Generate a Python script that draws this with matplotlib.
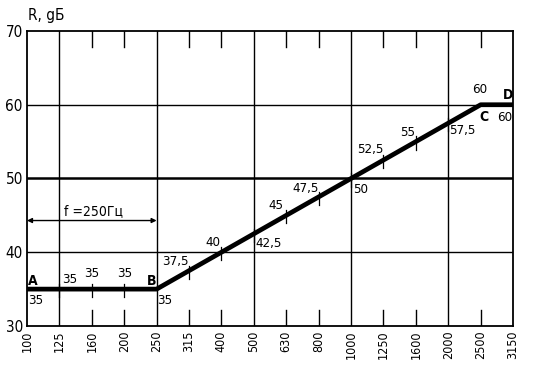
import numpy as np
import matplotlib
matplotlib.use("Agg")
import matplotlib.pyplot as plt

plt.rcParams['font.family'] = ['DejaVu Sans']
plt.rcParams['font.stretch'] = 'condensed'

freqs = ["100", "125", "160", "200", "250", "315", "400", "500", "630",
         "800", "1000", "1250", "1600", "2000", "2500", "3150"]
r_db = [35, 35, 35, 35, 35, 37.5, 40, 42.5, 45, 47.5, 50, 52.5, 55, 57.5, 60, 60]
point_labels = ["35", "35", "35", "35", "35", "37,5", "40", "42,5", "45",
                "47,5", "50", "52,5", "55", "57,5", "60", "60"]
full_grid = ["125", "250", "500", "1000", "2000"]
y_ticks = [30, 40, 50, 60, 70]

x = np.arange(len(freqs))

fig = plt.figure(figsize=(5.35, 3.78), dpi=100)
ax = fig.add_axes([0.0505, 0.1376, 0.9085, 0.7804])
ax.set_xlim(0, len(freqs) - 1)
ax.set_ylim(30, 70)

# grid
for f in full_grid:
    ax.axvline(freqs.index(f), color="black", lw=1.0)
for y in [40, 60]:
    ax.axhline(y, color="black", lw=1.0)
ax.axhline(50, color="black", lw=1.8)

# short marks at top and bottom for the other frequencies
for i, f in enumerate(freqs[1:-1], start=1):
    if f in full_grid:
        continue
    ax.plot([i, i], [30, 32.2], color="black", lw=1.0)
    ax.plot([i, i], [67.8, 70], color="black", lw=1.0)

# curve
ax.plot(x, r_db, color="black", lw=3.4, solid_capstyle="butt", zorder=5)

# small ticks through the curve
for i in range(1, len(freqs) - 1):
    if i in (4, 14):
        continue
    ax.plot([i, i], [r_db[i] - 1.1, r_db[i] + 0.7], color="black", lw=0.9, zorder=6)

# point labels
lab_kw = dict(fontsize=9.5, color="black", zorder=7)
offsets = {
    0: (0.03, -0.6, "left", "top"),
    1: (0.08, 0.4, "left", "bottom"),
    2: (0.0, 1.2, "center", "bottom"),
    3: (0.0, 1.2, "center", "bottom"),
    4: (0.03, -0.6, "left", "top"),
    5: (0.0, 0.4, "right", "bottom"),
    6: (-0.03, 0.5, "right", "bottom"),
    7: (0.05, -0.4, "left", "top"),
    8: (-0.08, 0.5, "right", "bottom"),
    9: (0.0, 0.3, "right", "bottom"),
    10: (0.05, -0.6, "left", "top"),
    11: (0.0, 0.5, "right", "bottom"),
    12: (-0.03, 0.3, "right", "bottom"),
    13: (0.03, -0.1, "left", "top"),
    14: (-0.03, 1.2, "center", "bottom"),
    15: (-0.03, -0.8, "right", "top"),
}
for i, lab in enumerate(point_labels):
    dx, dy, ha, va = offsets[i]
    ax.text(x[i] + dx, r_db[i] + dy, lab, ha=ha, va=va, **lab_kw)

# corner letters
letter_pos = {"A": (0.18, 36.1), "B": (3.85, 36.1), "C": (14.1, 58.3), "D": (14.85, 61.3)}
for k, (lx, ly) in letter_pos.items():
    ax.text(lx, ly, k, ha="center", va="center", fontsize=10, fontweight="bold",
            zorder=8)

# frequency band arrow
ax.annotate("", xy=(0, 44.3), xytext=(4, 44.3),
            arrowprops=dict(arrowstyle="<|-|>", color="black", lw=1.0,
                            shrinkA=0, shrinkB=0, mutation_scale=7))
ax.text(2.05, 44.6, "f =250Гц", ha="center", va="bottom", fontsize=10)

ax.set_xticks(x)
ax.set_xticklabels(freqs, rotation=90, fontsize=9)
ax.set_yticks(y_ticks)
ax.set_yticklabels([str(v) for v in y_ticks], fontsize=11)
ax.tick_params(axis="both", length=0, pad=3)
for s in ax.spines.values():
    s.set_linewidth(1.3)

fig.text(0.052, 0.94, "R, gБ", fontsize=11, ha="left", va="bottom")

fig.savefig("out.png", dpi=100)
